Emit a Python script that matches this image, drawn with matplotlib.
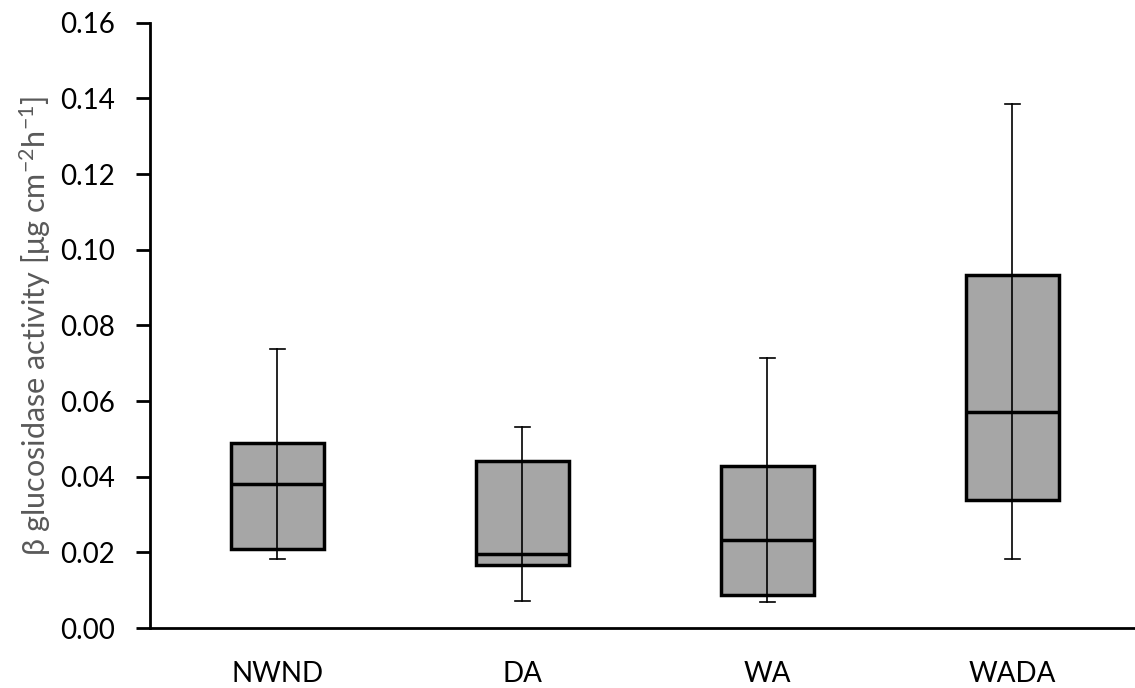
import numpy as np
import matplotlib
matplotlib.use('Agg')
import matplotlib.pyplot as plt

plt.rcParams['font.family'] = ['Lato', 'DejaVu Sans']
plt.rcParams['mathtext.fontset'] = 'custom'
plt.rcParams['mathtext.rm'] = 'Lato'
plt.rcParams['mathtext.it'] = 'Lato:italic'

# values
groups = ['NWND', 'DA', 'WA', 'WADA']
whis_low = [0.0182, 0.0071, 0.0070, 0.0182]
q1 = [0.0209, 0.0167, 0.0088, 0.0338]
median = [0.0381, 0.0196, 0.0233, 0.0572]
q3 = [0.0489, 0.0442, 0.0428, 0.0934]
whis_high = [0.0738, 0.0532, 0.0715, 0.1386]

stats = []
for i in range(len(groups)):
    stats.append(dict(label=groups[i], whislo=whis_low[i], q1=q1[i], med=median[i],
                      q3=q3[i], whishi=whis_high[i], fliers=[]))

fig = plt.figure(figsize=(11.35, 6.88), dpi=100)
ax = fig.add_axes([0.132, 0.087, 0.868, 0.88])

pos = np.arange(1, len(groups) + 1)
ax.bxp(stats, positions=pos, widths=0.38, patch_artist=True, showfliers=False,
       boxprops=dict(facecolor='#a6a6a6', edgecolor='black', linewidth=2.5),
       medianprops=dict(color='black', linewidth=2.5),
       whiskerprops=dict(color='black', linewidth=1.2),
       capprops=dict(color='black', linewidth=1.2),
       capwidths=0.06)
# whisker line continues through the box
ax.vlines(pos, q1, q3, color='black', linewidth=1.2, zorder=3)

ax.set_xlim(0.48, 4.5)
ax.set_ylim(0, 0.16)
ax.set_yticks(np.arange(0, 0.161, 0.02))
ax.set_yticklabels(['%.2f' % v for v in np.arange(0, 0.161, 0.02)], fontsize=20)
ax.set_xticks(pos)
ax.set_xticklabels(groups, fontsize=20)
ax.tick_params(axis='x', length=0, pad=24)
ax.tick_params(axis='y', length=10, width=2, pad=15)

for s in ['top', 'right']:
    ax.spines[s].set_visible(False)
ax.spines['left'].set_linewidth(2)
ax.spines['bottom'].set_linewidth(2)

ax.set_ylabel('β glucosidase activity [μg cm$^{-2}$h$^{-1}$]', fontsize=22, color='#595959')
ax.yaxis.set_label_coords(-0.098, 0.5)

fig.savefig('out.png', dpi=100)
